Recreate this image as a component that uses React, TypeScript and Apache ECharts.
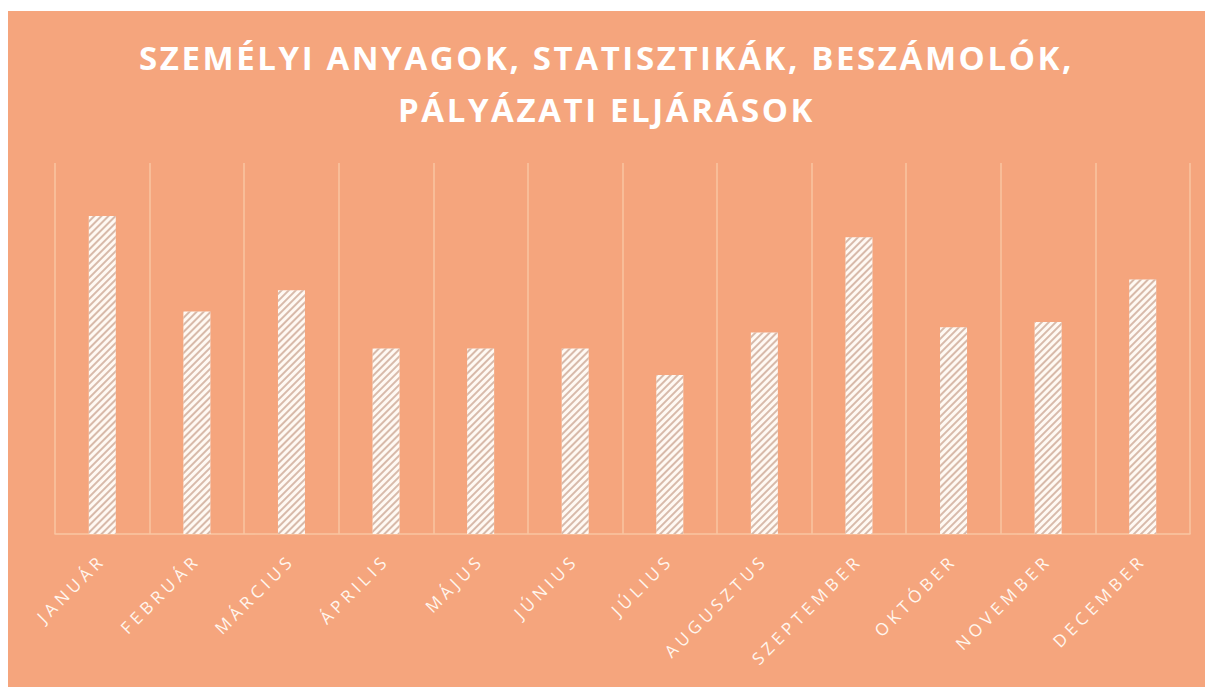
import React, { useEffect, useRef } from "react";
import * as echarts from "echarts";

const titleLines = ["SZEMÉLYI ANYAGOK, STATISZTIKÁK, BESZÁMOLÓK,", "PÁLYÁZATI ELJÁRÁSOK"];
const months = [
  "JANUÁR", "FEBRUÁR", "MÁRCIUS", "ÁPRILIS", "MÁJUS", "JÚNIUS",
  "JÚLIUS", "AUGUSZTUS", "SZEPTEMBER", "OKTÓBER", "NOVEMBER", "DECEMBER",
];
const values = [60, 42, 46, 35, 35, 35, 30, 38, 56, 39, 40, 48];

export default function App() {
  const ref = useRef<HTMLDivElement>(null);
  useEffect(() => {
    document.body.style.margin = "0";
    const chart = echarts.init(ref.current!, null, { renderer: "svg" });
    chart.setOption({
      animation: false,
      backgroundColor: "#F5A57D",
      title: {
        text: titleLines.join("\n"),
        left: "center",
        top: 15,
        textStyle: {
          color: "#FFFFFF",
          fontFamily: "Open Sans",
          fontWeight: "bold",
          fontSize: 33,
          lineHeight: 52,
        },
      },
      grid: { left: 47, right: 15, top: 152, bottom: 153 },
      xAxis: {
        type: "category",
        data: months,
        boundaryGap: true,
        axisLine: { show: true, lineStyle: { color: "#F9C6A2", width: 1.5 } },
        axisTick: { show: false },
        splitLine: { show: true, lineStyle: { color: "#F9C6A2", width: 1.5 } },
        axisLabel: {
          interval: 0,
          rotate: 45,
          margin: 23,
          color: "#FFF6EE",
          fontFamily: "Open Sans",
          fontSize: 17,
        },
      },
      yAxis: {
        type: "value",
        min: 0,
        max: 70,
        show: false,
        splitLine: { show: false },
      },
      series: [
        {
          type: "bar",
          data: values,
          barWidth: 27,
          itemStyle: {
            color: "#FFF9F3",
            decal: {
              symbol: "rect",
              color: "rgba(200,160,140,0.7)",
              dashArrayX: [1, 0],
              dashArrayY: [1.2, 3],
              rotation: -Math.PI / 4,
            },
          },
        },
      ],
    });
    return () => chart.dispose();
  }, []);
  return (
    <div style={{ paddingTop: 11, paddingLeft: 8 }}>
      <style>{`#chartbox text[style*="17px"], #chartbox text[font-size="17"] { letter-spacing: 4.4px; } #chartbox text[style*="33px"], #chartbox text[font-size="33"] { letter-spacing: 2.6px; }`}</style>
      <div id="chartbox" ref={ref} style={{ width: 1197, height: 676 }} />
    </div>
  );
}
